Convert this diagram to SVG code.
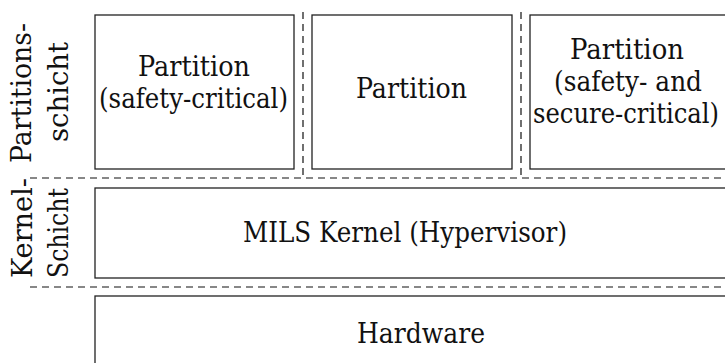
<svg xmlns="http://www.w3.org/2000/svg" width="725" height="363" viewBox="0 0 725 363">
<style>
.box{fill:#fff;stroke:#222;stroke-width:1.3}
.dash{fill:none;stroke:#111;stroke-width:1.2;stroke-dasharray:7 5}
.t{font-family:'DejaVu Serif','Liberation Serif',serif;font-size:27px;fill:#111;text-anchor:middle}
</style>
<rect width="725" height="363" fill="#fff"/>
<g id="connectors">
<line class="dash" x1="30" y1="178" x2="725" y2="178"/>
<line class="dash" x1="30" y1="287" x2="725" y2="287"/>
<line class="dash" x1="303" y1="12" x2="303" y2="178"/>
<line class="dash" x1="521" y1="12" x2="521" y2="178"/>
</g>
<g id="label-partition-layer">
<text class="t" transform="translate(31,93) rotate(-90)" textLength="140" lengthAdjust="spacingAndGlyphs">Partitions-</text>
<text class="t" transform="translate(68,92) rotate(-90)" textLength="100" lengthAdjust="spacingAndGlyphs">schicht</text>
</g>
<g id="label-kernel-layer">
<text class="t" transform="translate(32,228) rotate(-90)" textLength="100" lengthAdjust="spacingAndGlyphs">Kernel-</text>
<text class="t" transform="translate(68,233) rotate(-90)" textLength="90" lengthAdjust="spacingAndGlyphs">Schicht</text>
</g>
<g id="partition1">
<rect class="box" x="95" y="15" width="199" height="154"/>
<text class="t" x="194" y="76" textLength="112" lengthAdjust="spacingAndGlyphs">Partition</text>
<text class="t" x="193.5" y="108" textLength="189" lengthAdjust="spacingAndGlyphs">(safety-critical)</text>
</g>
<g id="partition2">
<rect class="box" x="312" y="15" width="200" height="154"/>
<text class="t" x="411.5" y="98" textLength="111" lengthAdjust="spacingAndGlyphs">Partition</text>
</g>
<g id="partition3">
<rect class="box" x="530" y="15" width="200" height="154"/>
<text class="t" x="627" y="59" textLength="114" lengthAdjust="spacingAndGlyphs">Partition</text>
<text class="t" x="628" y="91" textLength="148" lengthAdjust="spacingAndGlyphs">(safety- and</text>
<text class="t" x="626" y="123" textLength="186" lengthAdjust="spacingAndGlyphs">secure-critical)</text>
</g>
<g id="kernel">
<rect class="box" x="95" y="188" width="640" height="90"/>
<text class="t" x="405" y="242" textLength="324" lengthAdjust="spacingAndGlyphs">MILS Kernel (Hypervisor)</text>
</g>
<g id="hardware">
<rect class="box" x="95" y="296" width="640" height="90"/>
<text class="t" x="421" y="343" textLength="128" lengthAdjust="spacingAndGlyphs">Hardware</text>
</g>
</svg>
